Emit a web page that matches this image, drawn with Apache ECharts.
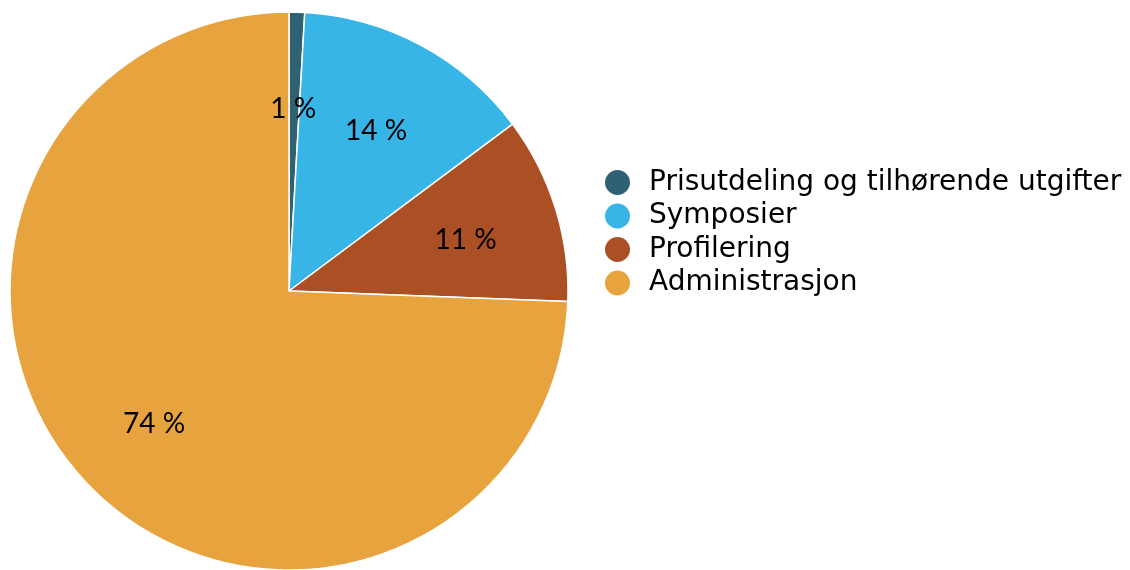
<!DOCTYPE html>
<html><head><meta charset="utf-8">
<script src="https://cdn.jsdelivr.net/npm/echarts@6/dist/echarts.min.js"></script>
<style>html,body{margin:0;padding:0;background:#fff}#c{width:1130px;height:570px}</style>
</head><body><div id="c"></div>
<script>
var categories = ['Prisutdeling og tilhørende utgifter', 'Symposier', 'Profilering', 'Administrasjon'];
var values = [0.9, 13.9, 10.8, 74.4];
var colors = ['#2e6272', '#37b5e6', '#ab5025', '#e7a33e'];

var data = categories.map(function (n, i) { return { name: n, value: values[i] }; });
var chart = echarts.init(document.getElementById('c'));
chart.setOption({
  animation: false,
  color: colors,
  legend: {
    orient: 'vertical', left: 598, top: 163,
    icon: 'circle', itemWidth: 27, itemHeight: 27, itemGap: 4.5,
    textStyle: { fontFamily: '"DejaVu Sans"', fontSize: 28, lineHeight: 28, color: '#000', padding: [0, 0, 0, 13] },
    data: categories
  },
  series: [{
    type: 'pie', center: [289, 291], radius: 279, startAngle: 90, clockwise: true,
    label: { show: false }, labelLine: { show: false },
    itemStyle: { borderColor: '#fff', borderWidth: 1.5 },
    data: data
  }, {
    type: 'pie', center: [288, 295], radius: 366, startAngle: 90, clockwise: true,
    silent: true, legendHoverLink: false,
    itemStyle: { color: 'rgba(0,0,0,0)' },
    label: { show: true, position: 'inside', fontFamily: 'Lato', fontSize: 28, color: '#000',
      formatter: function (p) { return Math.round(p.value) + ' %'; } },
    labelLine: { show: false },
    data: data
  }]
});
</script></body></html>
